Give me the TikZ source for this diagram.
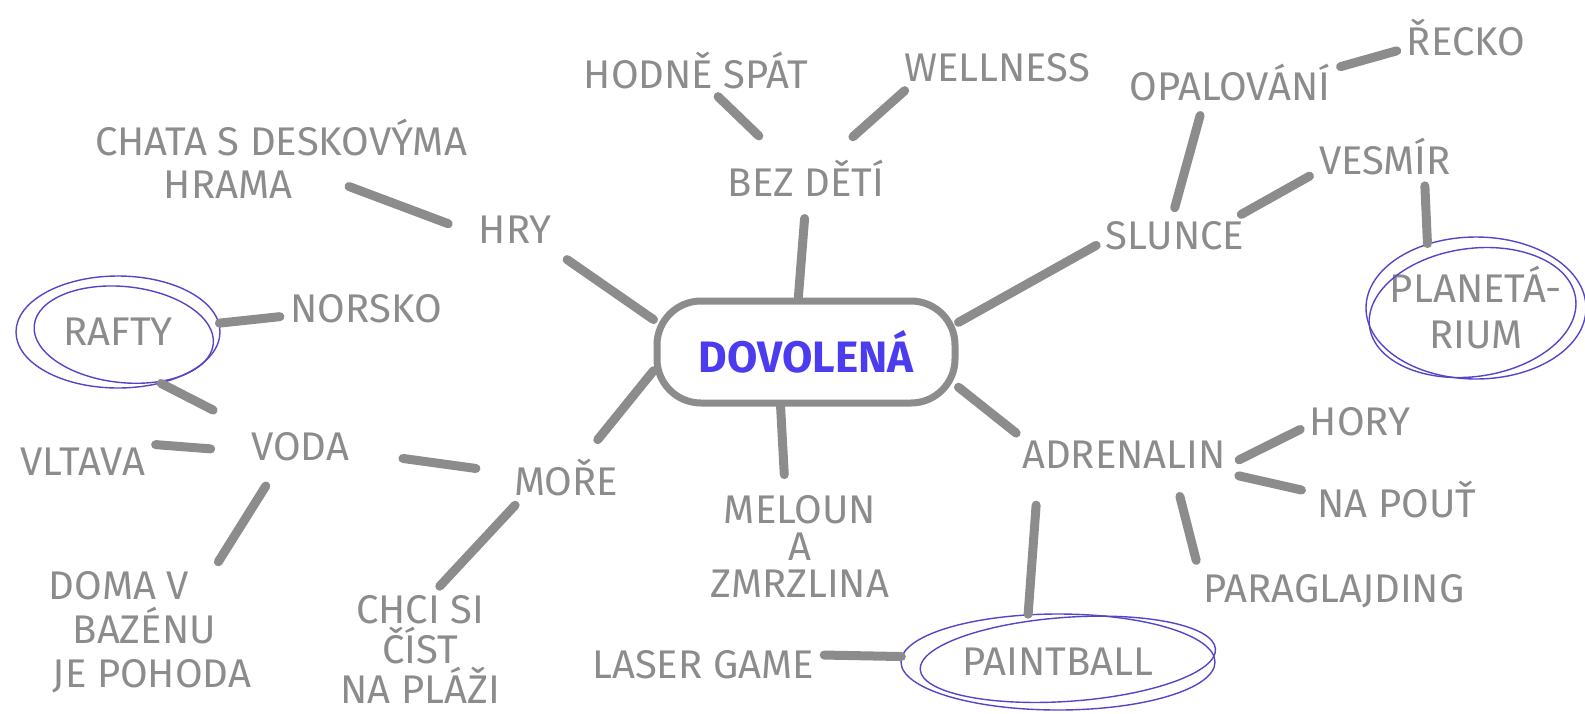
\documentclass[tikz,border=0pt]{standalone}
\usepackage{fontspec}
\setmainfont{Fira Sans}
\usetikzlibrary{shapes.geometric}
\definecolor{pencil}{HTML}{8C8C8C}
\definecolor{ink}{HTML}{4B3CF0}
\definecolor{marker}{HTML}{5446C8}

\begin{document}
\begin{tikzpicture}[x=0.5pt,y=-0.5pt,
    word/.style={text=pencil, font=\fontsize{20}{22}\selectfont, inner sep=2pt, align=center},
    hub/.style={draw=pencil, line width=3.5pt, rounded corners=22pt, minimum width=149pt, minimum height=51pt, inner sep=0pt, text=ink, font=\bfseries\fontsize{22}{24}\selectfont},
    ring/.style={draw=marker, line width=0.7pt},
    link/.style={draw=pencil, line width=4.5pt, line cap=round, shorten <=3pt, shorten >=3pt}]
    \useasboundingbox (0,0) rectangle (1585,713);

    \node [hub] (dov) at (806,352) {DOVOLENÁ};

    \node [word] (hry) at (515,230) {HRY};
    \node [word] (chata) at (281,138) {CHATA S DESKOVÝMA};
    \node [word] (hrama) at (228,185) {HRAMA};

    \node [word] (bez) at (806,178) {BEZ DĚTÍ};
    \node [word] (spat) at (696,71) {HODNĚ SPÁT};
    \node [word] (well) at (997,68) {WELLNESS};

    \node [word] (slunce) at (1175,236) {SLUNCE};
    \node [word] (opal) at (1230,83) {OPALOVÁNÍ};
    \node [word] (recko) at (1466,38) {ŘECKO};
    \node [word] (vesmir) at (1385,157) {VESMÍR};
    \node [word, ellipse, ring, minimum width=110pt, minimum height=71pt, inner xsep=-6pt, inner ysep=0pt, font=\fontsize{20}{23}\selectfont] (plan) at (1476,308) {PLANETÁ-\\RIUM};
    \draw [ring, rotate around={8:(plan.center)}] ([shift={(-4,4)}]plan.center) ellipse (52pt and 32pt);

    \node [word, ellipse, ring, minimum width=102pt, minimum height=56pt, inner sep=0pt] (rafty) at (118,332) {RAFTY};
    \draw [ring, rotate around={-6:(rafty.center)}] ([shift={(6,2)}]rafty.center) ellipse (45pt and 24pt);
    \node [word] (norsko) at (366,309) {NORSKO};
    \node [word] (voda) at (300,447) {VODA};
    \node [word] (vltava) at (83,462) {VLTAVA};
    \node [word, align=left] (doma) at (150,632) {DOMA V\\\hspace*{12pt}BAZÉNU\\\hspace*{2pt}JE POHODA};

    \node [word] (more) at (566,478) {MOŘE};
    \node [word, font=\fontsize{20}{20}\selectfont] (chci) at (420,649) {CHCI SI\\ČÍST\\NA PLÁŽI};
    \node [word, font=\fontsize{20}{18.5}\selectfont] (meloun) at (800,546) {MELOUN\\A\\ZMRZLINA};

    \node [word] (adren) at (1124,455) {ADRENALIN};
    \node [word] (hory) at (1360,422) {HORY};
    \node [word] (pout) at (1397,500) {NA POUŤ};
    \node [word] (para) at (1334,591) {PARAGLAJDING};
    \node [word, ellipse, ring, minimum width=157pt, minimum height=48pt, inner sep=0pt] (paint) at (1058,662) {PAINTBALL};
    \draw [ring, rotate around={4:(paint.center)}] ([shift={(10,-2)}]paint.center) ellipse (74pt and 21pt);
    \node [word] (laser) at (703,665) {LASER GAME};

    \draw [link, shorten <=10pt, shorten >=0pt] (hry.-27) -- (dov.168);
    \draw [link, shorten <=28pt, shorten >=14pt] (hrama.north east) -- (hry.185);
    \draw [link, shorten <=9pt, shorten >=0pt] (bez.-90) -- (dov.98);
    \draw [link, shorten <=2pt, shorten >=14pt] (spat.-50) -- (bez.140);
    \draw [link, shorten >=14pt] (well.192) -- (bez.41);
    \draw [link, shorten >=0pt] (slunce.185) -- (dov.11);
    \draw [link, shorten <=5pt, shorten >=5pt] (opal.220) -- (slunce.99);
    \draw [link] (opal.8) -- (recko.190);
    \draw [link] (slunce.17) -- (vesmir.193);
    \draw [link, shorten >=0pt] (vesmir.-30) -- (plan.127);
    \draw [link, shorten <=0pt] (rafty.5) -- (norsko.185);
    \draw [link, shorten <=0pt, shorten >=20pt] (rafty.-50) -- (voda.160);
    \draw [link, shorten <=18pt] (voda.185) -- (vltava.15);
    \draw [link, shorten <=12pt] (voda.221) -- (doma.45);
    \draw [link, shorten <=25pt, shorten >=17pt] (voda.-5) -- (more.175);
    \draw [link, shorten <=10pt, shorten >=0pt] (more.50) -- (dov.187);
    \draw [link] (more.206) -- (chci.75);
    \draw [link, shorten <=0pt, shorten >=8pt] (dov.-115) -- (meloun.105);
    \draw [link, shorten <=0pt] (dov.-13) -- (adren.170);
    \draw [link, shorten <=5pt] (adren.-5) -- (hory.185);
    \draw [link, shorten <=6pt, shorten >=6pt] (adren.-10) -- (pout.175);
    \draw [link, shorten <=12pt, shorten >=6pt] (adren.-20) -- (para.172);
    \draw [link, shorten <=16pt, shorten >=0pt] (adren.-168) -- (paint.122);
    \draw [link, shorten >=0pt] (laser.5) -- (paint.178);
\end{tikzpicture}
\end{document}
